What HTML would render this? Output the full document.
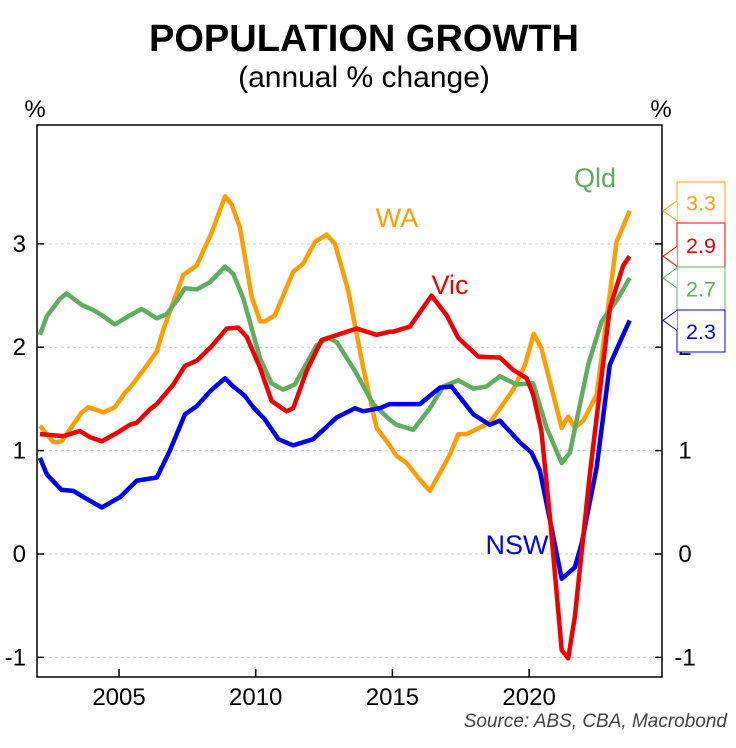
<!DOCTYPE html>
<html><head><meta charset="utf-8"><style>
body{margin:0;background:#fff;}
svg text{font-family:"Liberation Sans",Arial,sans-serif;}
</style></head><body>
<svg id="chart" width="736" height="743" xmlns="http://www.w3.org/2000/svg">
<text x="364" y="51" text-anchor="middle" font-size="38" font-weight="bold">POPULATION GROWTH</text>
<text x="364" y="87" text-anchor="middle" font-size="30">(annual % change)</text>
<text x="35" y="117" text-anchor="middle" font-size="24">%</text>
<text x="661" y="117" text-anchor="middle" font-size="24">%</text>
<g id="grid"></g>
<rect x="37" y="125" width="625" height="552" fill="none" stroke="#000" stroke-width="1.5"/>
<g id="lines"></g>
<g id="labels"></g>
<text x="727" y="727" text-anchor="end" font-size="19" font-style="italic" fill="#444">Source: ABS, CBA, Macrobond</text>
</svg>
<script>
const yTicks=[-1,0,1,2,3];
const xTicks=[2005,2010,2015,2020];
const nswYears=[2002.11,2002.36,2002.9,2003.33,2003.7,2004.37,2005.04,2005.65,2006.38,2006.86,2007.41,2007.84,2008.39,2008.88,2009.18,2009.6,2009.91,2010.34,2010.83,2011.37,2012.1,2012.47,2012.96,2013.63,2013.93,2014.54,2014.9,2016.0,2016.74,2017.16,2017.96,2018.56,2018.93,2019.66,2020.09,2020.39,2020.76,2021.19,2021.67,2021.92,2022.47,2022.95,2023.32,2023.68];
const nswValues=[0.93,0.77,0.62,0.61,0.55,0.45,0.55,0.71,0.74,1.0,1.35,1.43,1.59,1.70,1.62,1.53,1.42,1.30,1.11,1.05,1.11,1.20,1.32,1.41,1.38,1.41,1.45,1.45,1.61,1.62,1.35,1.25,1.29,1.08,0.98,0.81,0.33,-0.24,-0.13,0.10,0.84,1.83,2.05,2.26];
const vicYears=[2002.11,2002.96,2003.57,2003.94,2004.37,2004.92,2005.4,2005.65,2006.13,2006.38,2006.99,2007.41,2007.84,2008.39,2008.94,2009.36,2009.67,2010.16,2010.58,2011.13,2011.37,2011.86,2012.41,2013.33,2013.69,2014.42,2014.9,2015.03,2015.64,2016.43,2016.98,2017.41,2018.14,2018.93,2019.42,2019.91,2020.15,2020.45,2020.76,2021.19,2021.43,2021.67,2022.22,2022.95,2023.44,2023.68];
const vicValues=[1.16,1.14,1.19,1.13,1.09,1.17,1.25,1.27,1.40,1.45,1.64,1.82,1.87,2.01,2.18,2.19,2.10,1.80,1.48,1.38,1.41,1.77,2.07,2.15,2.18,2.12,2.15,2.15,2.20,2.50,2.31,2.09,1.91,1.90,1.78,1.70,1.54,1.19,0.36,-0.93,-1.01,-0.61,0.77,2.38,2.79,2.88];
const qldYears=[2002.11,2002.36,2002.84,2003.08,2003.64,2004.06,2004.37,2004.85,2005.4,2005.83,2006.38,2006.74,2007.11,2007.41,2007.84,2008.33,2008.88,2009.18,2009.55,2010.16,2010.58,2011.0,2011.43,2012.23,2012.65,2012.96,2013.63,2014.3,2014.9,2015.15,2015.76,2016.37,2016.86,2017.41,2017.96,2018.44,2018.93,2019.54,2020.15,2020.64,2021.19,2021.49,2022.16,2022.65,2023.2,2023.68];
const qldValues=[2.12,2.30,2.47,2.52,2.41,2.36,2.31,2.22,2.31,2.37,2.28,2.32,2.45,2.57,2.56,2.63,2.78,2.71,2.47,1.89,1.65,1.59,1.64,2.02,2.09,2.05,1.77,1.45,1.30,1.25,1.20,1.41,1.62,1.68,1.60,1.62,1.72,1.64,1.65,1.22,0.88,0.98,1.83,2.25,2.45,2.67];
const waYears=[2002.11,2002.6,2002.9,2003.64,2003.88,2004.43,2004.85,2005.22,2005.4,2005.89,2006.38,2006.62,2007.35,2007.84,2008.39,2008.88,2009.12,2009.42,2009.85,2010.16,2010.34,2010.7,2011.37,2011.74,2012.17,2012.59,2012.9,2013.39,2013.93,2014.42,2014.9,2015.15,2015.52,2016.0,2016.37,2017.1,2017.41,2017.71,2018.56,2019.42,2019.85,2020.17,2020.45,2021.19,2021.43,2021.67,2021.98,2022.47,2023.2,2023.68];
const waValues=[1.24,1.08,1.09,1.37,1.42,1.37,1.42,1.56,1.61,1.78,1.96,2.17,2.70,2.79,3.11,3.46,3.38,3.16,2.49,2.25,2.25,2.31,2.73,2.81,3.02,3.09,3.0,2.54,1.80,1.22,1.05,0.95,0.88,0.72,0.61,0.96,1.16,1.16,1.27,1.59,1.83,2.13,1.99,1.22,1.33,1.22,1.29,1.54,3.02,3.32];
const latestLabels=["3.3","2.9","2.7","2.3"];

const NS="http://www.w3.org/2000/svg";
const X0=37,X1=662,Y0=125,Y1=677;
const xMin=2002.0,xMax=2024.86,yMin=-1.19,yMax=4.15;
function xs(v){return X0+(v-xMin)/(xMax-xMin)*(X1-X0);}
function ys(v){return Y1-(v-yMin)/(yMax-yMin)*(Y1-Y0);}
function mk(tag,attrs,parent){const e=document.createElementNS(NS,tag);for(const k in attrs)e.setAttribute(k,attrs[k]);parent.appendChild(e);return e;}
const grid=document.getElementById('grid'),lines=document.getElementById('lines'),labels=document.getElementById('labels');
yTicks.forEach(t=>{
  const y=ys(t);
  const g=mk('line',{x1:X0,x2:X1,y1:y,y2:y,stroke:'#ccc','stroke-width':1,'stroke-dasharray':'3,3'},grid);
  
  
  const tl=mk('line',{x1:X0,x2:X0+7,y1:y,y2:y,stroke:'#000','stroke-width':1.5},grid);
  
  
  const tr=mk('line',{x1:X1-7,x2:X1,y1:y,y2:y,stroke:'#000','stroke-width':1.5},grid);
  
  
  const l=mk('text',{x:26,y:y+8,'text-anchor':'end','font-size':24},grid);l.textContent=t;
  
  
  const r=mk('text',{x:685,y:y+8,'text-anchor':'middle','font-size':24},grid);r.textContent=t;
  
  
});
xTicks.forEach(t=>{
  const x=xs(t);
  const tk=mk('line',{x1:x,x2:x,y1:Y1-8,y2:Y1,stroke:'#000','stroke-width':1.5},grid);
  
  
  const l=mk('text',{x:x,y:705,'text-anchor':'middle','font-size':24},grid);l.textContent=t;
  
  
});
function drawSeries(yrs,vals,color,name){
  const d=yrs.map((yr,i)=>(i?'L':'M')+xs(yr).toFixed(1)+','+ys(vals[i]).toFixed(1)).join(' ');
  const p=mk('path',{d:d,fill:'none',stroke:color,'stroke-width':4.5,'stroke-linejoin':'round'},lines);
  
  
}
drawSeries(waYears,waValues,'#FF9E00','wa-line');
drawSeries(qldYears,qldValues,'#5FAD5F','qld-line');
drawSeries(nswYears,nswValues,'#0000F0','nsw-line');
drawSeries(vicYears,vicValues,'#F00000','vic-line');
[['WA',397,227,'#FF9E00','wa-label'],['Vic',450,294,'#F00000','vic-label'],['Qld',595,187,'#5FAD5F','qld-label'],['NSW',517,554,'#0000F0','nsw-label']].forEach(a=>{
  const t=mk('text',{x:a[1],y:a[2],'text-anchor':'middle','font-size':27,fill:a[3]},labels);t.textContent=a[0];
  
  
});
const boxColors=['#FF9E00','#F00000','#5FAD5F','#0000F0'];
const boxTops=[182,223,267,310],boxBottoms=[223,267,310,352];
const lastVals=[waValues[waValues.length-1],vicValues[vicValues.length-1],qldValues[qldValues.length-1],nswValues[nswValues.length-1]];
latestLabels.forEach((lab,i)=>{
  const t0=boxTops[i],b0=boxBottoms[i],c=boxColors[i];
  const py=Math.min(Math.max(ys(lastVals[i]),t0+6),b0-6);
  const bg=mk('rect',{x:677,y:t0,width:48,height:b0-t0,fill:'#fff',stroke:c,'stroke-width':1},labels);
  
  
  const ptr=mk('path',{d:`M677,${py-10} L663,${py} L677,${py+10}`,fill:'#fff',stroke:c,'stroke-width':1},labels);
  
  
  const t=mk('text',{x:701,y:(t0+b0)/2+8,'text-anchor':'middle','font-size':21.5,fill:c},labels);t.textContent=lab;
  
  
});
</script>
</body></html>
